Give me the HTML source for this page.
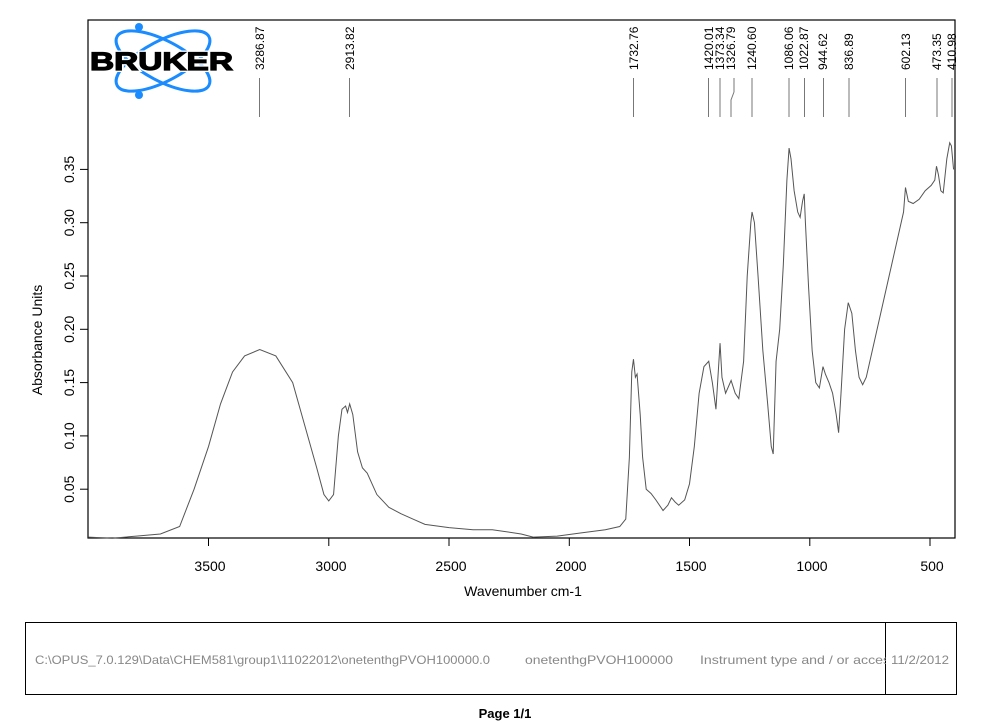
<!DOCTYPE html>
<html><head><meta charset="utf-8"><style>
body{margin:0;background:#fff;}
svg{display:block;font-family:"Liberation Sans",Arial,sans-serif;}
</style></head><body>
<svg width="982" height="723" viewBox="0 0 982 723" xmlns="http://www.w3.org/2000/svg">
<rect x="0" y="0" width="982" height="723" fill="#fff"/>
<!-- logo -->
<g fill="none" stroke="#1a8cff" stroke-width="3">
<ellipse cx="163" cy="61" rx="52" ry="20" transform="rotate(28 163 61)"/>
<ellipse cx="163" cy="61" rx="52" ry="20" transform="rotate(-28 163 61)"/>
</g>
<circle cx="139" cy="27" r="4" fill="#1a8cff"/>
<circle cx="139" cy="95" r="4" fill="#1a8cff"/>
<text x="90" y="70" font-size="25" font-weight="bold" fill="#000" textLength="143" lengthAdjust="spacingAndGlyphs" stroke="#fff" stroke-width="4">BRUKER</text>
<text x="90" y="70" font-size="25" font-weight="bold" fill="#000" textLength="143" lengthAdjust="spacingAndGlyphs" stroke="#000" stroke-width="1.2">BRUKER</text>
<!-- frame -->
<rect x="88" y="20" width="867" height="518" fill="none" stroke="#000" stroke-width="1.2"/>
<!-- peak labels -->
<g font-size="12" fill="#000" text-anchor="start">
<text transform="translate(264,70) rotate(-90)">3286.87</text>
<text transform="translate(354,70) rotate(-90)">2913.82</text>
<text transform="translate(638,70) rotate(-90)">1732.76</text>
<text transform="translate(713,70) rotate(-90)">1420.01</text>
<text transform="translate(724,70) rotate(-90)">1373.34</text>
<text transform="translate(735,70) rotate(-90)">1326.79</text>
<text transform="translate(756,70) rotate(-90)">1240.60</text>
<text transform="translate(793,70) rotate(-90)">1086.06</text>
<text transform="translate(808,70) rotate(-90)">1022.87</text>
<text transform="translate(827,70) rotate(-90)">944.62</text>
<text transform="translate(853,70) rotate(-90)">836.89</text>
<text transform="translate(910,70) rotate(-90)">602.13</text>
<text transform="translate(941,70) rotate(-90)">473.35</text>
<text transform="translate(956,70) rotate(-90)">410.98</text>
</g>
<g stroke="#777" stroke-width="1">
<line x1="259.5" y1="78" x2="259.5" y2="117"/><line x1="349.5" y1="78" x2="349.5" y2="117"/>
<line x1="633.5" y1="78" x2="633.5" y2="117"/><line x1="708.5" y1="78" x2="708.5" y2="117"/>
<line x1="720" y1="78" x2="720" y2="117"/><line x1="734" y1="78" x2="734" y2="92"/><polyline fill="none" points="734,92 731,100 731,117"/>
<line x1="752" y1="78" x2="752" y2="117"/><line x1="789" y1="78" x2="789" y2="117"/>
<line x1="804.5" y1="78" x2="804.5" y2="117"/><line x1="823.5" y1="78" x2="823.5" y2="117"/>
<line x1="849" y1="78" x2="849" y2="117"/><line x1="905.5" y1="78" x2="905.5" y2="117"/>
<line x1="937" y1="78" x2="937" y2="117"/><line x1="952" y1="78" x2="952" y2="117"/>
</g>
<!-- spectrum -->
<g transform="matrix(-0.2405 0 0 -1066 1050.25 542.5)">
<polyline fill="none" stroke="#555" stroke-width="1" vector-effect="non-scaling-stroke" points="
4000,.005 3900,.004 3800,.006 3700,.008 3620,.015 3560,.05 3500,.09 3450,.13 3400,.16 3350,.175 3287,.181 3220,.175 3150,.15 3100,.11 3050,.07 3020,.045 3000,.039 2980,.045 2960,.10 2945,.125 2930,.128 2922,.122 2913,.13 2900,.12 2880,.085 2860,.07 2840,.065 2800,.045 2750,.033 2700,.027 2650,.022 2600,.017 2500,.014 2400,.012 2320,.012 2200,.008 2150,.005 2050,.006 1950,.009 1850,.012 1790,.015 1765,.022 1750,.08 1740,.16 1733,.172 1725,.155 1718,.158 1705,.12 1695,.08 1680,.05 1660,.046 1640,.04 1610,.03 1590,.035 1575,.042 1560,.038 1545,.035 1520,.04 1500,.055 1480,.09 1460,.14 1440,.165 1420,.17 1405,.15 1390,.125 1373,.187 1365,.155 1350,.14 1327,.152 1310,.14 1295,.135 1275,.17 1260,.25 1245,.3 1240,.31 1230,.3 1215,.25 1195,.18 1175,.13 1160,.09 1152,.083 1140,.17 1125,.2 1110,.26 1095,.34 1086,.37 1078,.36 1065,.33 1050,.31 1040,.305 1030,.32 1023,.327 1018,.3 1005,.24 990,.18 975,.15 960,.145 945,.165 935,.158 920,.15 905,.14 890,.12 880,.103 870,.14 855,.2 840,.225 825,.215 810,.18 795,.155 780,.148 765,.155 740,.18 700,.22 660,.26 630,.29 610,.31 602,.333 590,.32 570,.318 545,.322 520,.33 495,.335 480,.34 473,.353 465,.345 455,.33 445,.328 430,.36 418,.375 411,.372 402,.35"/>
</g>
<!-- ticks -->
<g stroke="#000" stroke-width="1">
<line x1="80" y1="489.2" x2="88" y2="489.2"/><line x1="80" y1="435.9" x2="88" y2="435.9"/>
<line x1="80" y1="382.6" x2="88" y2="382.6"/><line x1="80" y1="329.3" x2="88" y2="329.3"/>
<line x1="80" y1="276" x2="88" y2="276"/><line x1="80" y1="222.7" x2="88" y2="222.7"/>
<line x1="80" y1="169.4" x2="88" y2="169.4"/>
<line x1="208.5" y1="538" x2="208.5" y2="546"/><line x1="328.8" y1="538" x2="328.8" y2="546"/>
<line x1="449" y1="538" x2="449" y2="546"/><line x1="569.3" y1="538" x2="569.3" y2="546"/>
<line x1="689.5" y1="538" x2="689.5" y2="546"/><line x1="809.8" y1="538" x2="809.8" y2="546"/>
<line x1="930" y1="538" x2="930" y2="546"/>
</g>
<g font-size="14" fill="#000" text-anchor="middle">
<text transform="translate(74,489.2) rotate(-90)">0.05</text>
<text transform="translate(74,435.9) rotate(-90)">0.10</text>
<text transform="translate(74,382.6) rotate(-90)">0.15</text>
<text transform="translate(74,329.3) rotate(-90)">0.20</text>
<text transform="translate(74,276) rotate(-90)">0.25</text>
<text transform="translate(74,222.7) rotate(-90)">0.30</text>
<text transform="translate(74,169.4) rotate(-90)">0.35</text>
<text transform="translate(42,340) rotate(-90)">Absorbance Units</text>
<text x="210" y="571">3500</text><text x="331" y="571">3000</text><text x="451" y="571">2500</text>
<text x="571" y="571">2000</text><text x="691" y="571">1500</text><text x="812" y="571">1000</text>
<text x="932" y="571">500</text>
<text x="523" y="596">Wavenumber cm-1</text>
</g>
<!-- footer -->
<rect x="25.5" y="622.5" width="931" height="72" fill="none" stroke="#000" stroke-width="1"/>
<line x1="885.5" y1="622.5" x2="885.5" y2="694.5" stroke="#000"/>
<g font-size="12" fill="#888">
<text x="35" y="664" textLength="455" lengthAdjust="spacingAndGlyphs">C:\OPUS_7.0.129\Data\CHEM581\group1\11022012\onetenthgPVOH100000.0</text>
<text x="525" y="664" textLength="148" lengthAdjust="spacingAndGlyphs">onetenthgPVOH100000</text>
<text x="700" y="664" textLength="205" lengthAdjust="spacingAndGlyphs">Instrument type and / or accesso</text>
</g>
<rect x="886" y="640" width="70" height="40" fill="#fff"/>
<text x="891" y="664" font-size="12" fill="#888" textLength="58" lengthAdjust="spacingAndGlyphs">11/2/2012</text>
<text x="505" y="718" font-size="13" font-weight="bold" text-anchor="middle" fill="#000">Page 1/1</text>
</svg>
</body></html>
